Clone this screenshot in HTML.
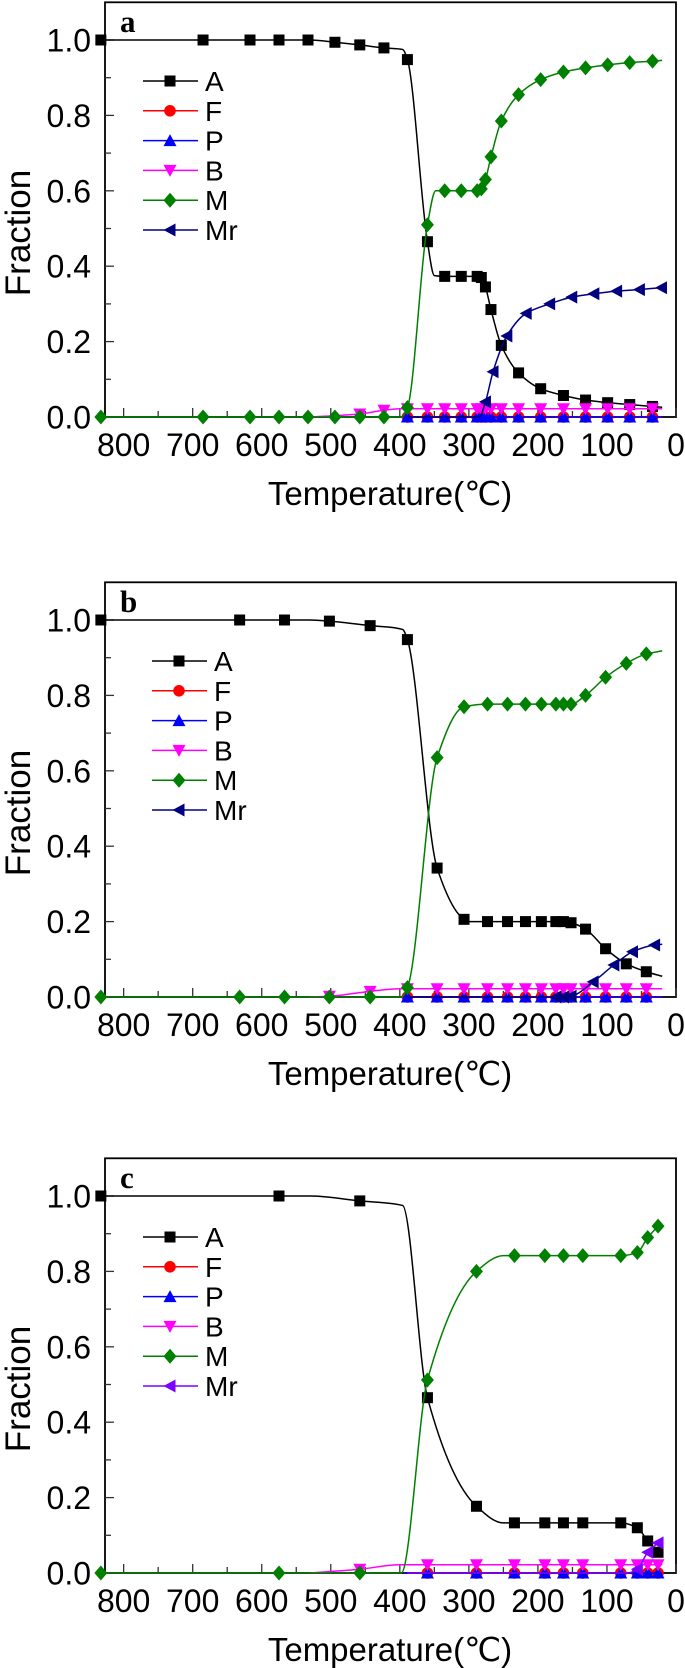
<!DOCTYPE html>
<html><head><meta charset="utf-8">
<style>
html,body{margin:0;padding:0;background:#fff;}
svg{display:block;font-family:"Liberation Sans",Arial,sans-serif;}
</style></head>
<body>
<svg id="chart" width="685" height="1668" viewBox="0 0 685 1668" xmlns="http://www.w3.org/2000/svg"></svg>
<script>
// ---------- data (temperature °C, fraction) ----------
// Panel a
const aA_T=[833,685,617,575,533,494,458,423,389,360,335,311,288,282,276,268,253,228,196,163,131,99,67,34];
const aA_V=[1,1,1,1,1,0.994,0.987,0.979,0.948,0.465,0.373,0.373,0.373,0.37,0.345,0.285,0.19,0.117,0.075,0.057,0.045,0.038,0.033,0.028];
const aA_kT=[530,396,350,20]; const aA_kV=[1,0.975,0.375,0.026];
const aM_T=[833,685,617,575,533,494,458,423,389,360,335,311,288,282,276,268,253,228,196,163,131,99,67,34];
const aM_V=[0,0,0,0,0,0,0,0,0.025,0.51,0.6,0.6,0.6,0.605,0.63,0.69,0.785,0.855,0.895,0.915,0.926,0.934,0.94,0.944];
const aM_kT=[398,348,20]; const aM_kV=[0,0.6,0.946];
const aMr_T=[276,265,245,217,183,151,119,86,53,21];
const aMr_V=[0.04,0.12,0.215,0.275,0.3,0.318,0.327,0.334,0.338,0.343];
const aMr_kT=[389,285]; const aMr_kV=[0,0];
const aB_T=[458,423,389,360,335,311,288,282,276,268,253,228,196,163,131,99,67,34];
const aB_V=[0.008,0.018,0.022,0.022,0.022,0.022,0.022,0.022,0.022,0.022,0.022,0.022,0.022,0.022,0.022,0.022,0.022,0.022];
const aB_kT=[530,400,20]; const aB_kV=[0,0.022,0.022];
const aF_T=[389,360,335,311,288,282,276,268,253,228,196,163,131,99,67,34];
const aF_V=[0,0,0,0,0,0,0,0,0,0,0,0,0,0,0,0];
// Panel b
const bA_T=[833,632,567,502,443,389,346,307,273,244,218,195,174,163,152,131,102,72,43];
const bA_V=[1,1,1,0.997,0.985,0.948,0.342,0.206,0.2,0.2,0.2,0.2,0.2,0.2,0.197,0.18,0.128,0.088,0.067];
const bA_kT=[530,396,300,20]; const bA_kV=[1,0.975,0.2,0.055];
const bM_T=[833,632,567,502,443,389,346,307,273,244,218,195,174,163,152,131,102,72,43];
const bM_V=[0,0,0,0,0,0.025,0.635,0.77,0.777,0.777,0.777,0.777,0.777,0.777,0.777,0.8,0.848,0.885,0.91];
const bM_kT=[398,20]; const bM_kV=[0,0.918];
const bMr_T=[174,163,152,120,90,63,31];
const bMr_V=[0,0,0.002,0.04,0.085,0.12,0.138];
const bMr_kT=[389,20]; const bMr_kV=[0,0.14];
const bB_T=[502,443,389,346,307,273,244,218,195,174,163,152,131,102,72,43];
const bB_V=[0.002,0.015,0.022,0.022,0.022,0.022,0.022,0.022,0.022,0.022,0.022,0.022,0.022,0.022,0.022,0.022];
const bB_kT=[530,400,20]; const bB_kV=[0,0.022,0.022];
const bF_T=[389,346,307,273,244,218,195,174,163,152,131,102,72,43];
const bF_V=[0,0,0,0,0,0,0,0,0,0,0,0,0,0];
// Panel c
const cA_T=[833,575,458,360,289,234,190,163,135,80,56,41,26];
const cA_V=[1,1,0.987,0.465,0.177,0.133,0.133,0.133,0.133,0.133,0.12,0.085,0.055];
const cA_kT=[530,396,250]; const cA_kV=[1,0.975,0.133];
const cM_T=[833,575,458,360,289,234,190,163,135,80,56,41,26];
const cM_V=[0,0,0,0.512,0.8,0.842,0.842,0.842,0.842,0.842,0.85,0.89,0.92];
const cM_kT=[398,250]; const cM_kV=[0,0.842];
const cMr_T=[56,41,26];
const cMr_V=[0.01,0.055,0.08];
const cMr_kT=[389,70]; const cMr_kV=[0,0];
const cB_T=[458,360,289,234,190,163,135,80,56,41,26];
const cB_V=[0.01,0.022,0.022,0.022,0.022,0.022,0.022,0.022,0.022,0.022,0.022];
const cB_kT=[530,400,20]; const cB_kV=[0,0.022,0.022];
const cF_T=[360,289,234,190,163,135,80,56,41,26];
const cF_V=[0,0,0,0,0,0,0,0,0,0];

const xTicks=[800,700,600,500,400,300,200,100,0];
const yTicks=[0.0,0.2,0.4,0.6,0.8,1.0];
const legendLabels=["A","F","P","B","M","Mr"];

// ---------- rendering ----------
const NS="http://www.w3.org/2000/svg";
const svg=document.getElementById('chart');
function mk(tag,attrs,parent){const e=document.createElementNS(NS,tag);for(const k in attrs)e.setAttribute(k,attrs[k]);(parent||svg).appendChild(e);return e;}

function monotone(pts){
  const n=pts.length; if(n<2) return "";
  const xs=pts.map(p=>p[0]), ys=pts.map(p=>p[1]);
  const d=[],m=new Array(n);
  for(let i=0;i<n-1;i++) d.push((ys[i+1]-ys[i])/(xs[i+1]-xs[i]));
  m[0]=d[0]; m[n-1]=d[n-2];
  for(let i=1;i<n-1;i++){ if(d[i-1]*d[i]<=0) m[i]=0; else { const w1=2*(xs[i+1]-xs[i])+(xs[i]-xs[i-1]), w2=(xs[i+1]-xs[i])+2*(xs[i]-xs[i-1]); m[i]=(w1+w2)/(w1/d[i-1]+w2/d[i]); } }
  let s="M"+xs[0].toFixed(2)+","+ys[0].toFixed(2);
  for(let i=0;i<n-1;i++){const h=xs[i+1]-xs[i];
    s+=" C"+(xs[i]+h/3).toFixed(2)+","+(ys[i]+m[i]*h/3).toFixed(2)+" "+(xs[i+1]-h/3).toFixed(2)+","+(ys[i+1]-m[i+1]*h/3).toFixed(2)+" "+xs[i+1].toFixed(2)+","+ys[i+1].toFixed(2);}
  return s;
}

function marker(g,shape,x,y,color){
  let e;
  if(shape==='square') e=mk('rect',{x:x-5.5,y:y-5.5,width:11,height:11,fill:color},g);
  else if(shape==='circle') e=mk('circle',{cx:x,cy:y,r:5.8,fill:color},g);
  else if(shape==='up') e=mk('polygon',{points:`${x},${y-6.5} ${x+6.5},${y+5.5} ${x-6.5},${y+5.5}`,fill:color},g);
  else if(shape==='down') e=mk('polygon',{points:`${x},${y+6.5} ${x+6.5},${y-5.5} ${x-6.5},${y-5.5}`,fill:color},g);
  else if(shape==='diamond') e=mk('polygon',{points:`${x},${y-7.5} ${x+6.5},${y} ${x},${y+7.5} ${x-6.5},${y}`,fill:color},g);
  else e=mk('polygon',{points:`${x-6.5},${y} ${x+5.5},${y-6.5} ${x+5.5},${y+6.5}`,fill:color},g);
  
  
}

function panel(cfg){
  const L=105,R=676,y0=cfg.y0,S=377;
  const top=y0-1.1*S;
  const X=t=>R-(R-L)*t/827;
  const Y=v=>y0-v*S;
  const g=mk('g',{});
  
  
  const fr=mk('rect',{x:L,y:top,width:R-L,height:y0-top,fill:'none',stroke:'#000','stroke-width':1.8},g);
  
  
  for(let v=0;v<=1.0001;v+=0.1){const y=Y(v);const major=Math.round(v*10)%2===0;
    mk('line',{x1:L,x2:L+(major?9:6),y1:y,y2:y,stroke:'#333','stroke-width':1.3},g);}
  yTicks.forEach(v=>{const t=mk('text',{x:L-14,y:Y(v)+11.5,'text-anchor':'end','font-size':32,fill:'#000'},g);t.textContent=v.toFixed(1);
    
    });
  for(let T=0;T<=800;T+=50){const x=X(T);const major=T%100===0;
    mk('line',{x1:x,x2:x,y1:y0,y2:y0-(major?9:6),stroke:'#333','stroke-width':1.3},g);}
  xTicks.forEach(T=>{const t=mk('text',{x:X(T),y:y0+39,'text-anchor':'middle','font-size':32,fill:'#000'},g);t.textContent=String(T);
    
    });
  const xt=mk('text',{x:390,y:y0+88,'text-anchor':'middle','font-size':33,fill:'#000'},g);
  xt.textContent='Temperature(℃)';
  
  
  const ytitle=mk('text',{x:0,y:0,'text-anchor':'middle','font-size':35,fill:'#000',transform:`translate(30,${y0-184}) rotate(-90)`},g);
  ytitle.textContent='Fraction';
  
  
  const pl=mk('text',{x:120,y:Y(1)-8,'font-size':31,'font-weight':'bold','font-family':'"Liberation Serif",serif',fill:'#000'},g);
  pl.textContent=cfg.tag;
  
  
  cfg.series.forEach(s=>{
    const pts=s.T.map((t,i)=>[t,s.V[i]]).concat((s.kT||[]).map((t,i)=>[t,s.kV[i]]));
    pts.sort((a,b)=>b[0]-a[0]);
    const sg=mk('g',{},g);
    
    
    const p=mk('path',{d:monotone(pts.map(q=>[X(q[0]),Y(q[1])])),fill:'none',stroke:s.color,'stroke-width':1.5},sg);
    
    
    s.T.forEach((t,i)=>marker(sg,s.shape,X(t),Y(s.V[i]),s.color));
  });
  const lg=mk('g',{},g);
  
  
  const order=['A','F','P','B','M','Mr'];
  order.forEach((nm,i)=>{const s=cfg.series.find(q=>q.name===nm);
    const y=Y(1)+41+i*29.8;const lx=cfg.legX;
    const eg=mk('g',{},lg);
    
    
    mk('line',{x1:lx,x2:lx+55,y1:y,y2:y,stroke:s.color,'stroke-width':1.5},eg);
    marker(eg,s.shape,lx+27,y,s.color);
    const t=mk('text',{x:lx+62,y:y+10,'font-size':28,fill:'#000'},eg);t.textContent=legendLabels[i];});
}

function build(tag,y0,legX,d,mrColor){
  panel({tag,y0,legX,series:[
    {name:'A',shape:'square',color:'#000',T:d.A_T,V:d.A_V,kT:d.A_kT,kV:d.A_kV},
    {name:'F',shape:'circle',color:'#ff0000',T:d.F_T,V:d.F_V,kT:[395,20],kV:[0,0]},
    {name:'P',shape:'up',color:'#0000ff',T:d.F_T,V:d.F_V,kT:[395,20],kV:[0,0]},
    {name:'B',shape:'down',color:'#ff00ff',T:d.B_T,V:d.B_V,kT:d.B_kT,kV:d.B_kV},
    {name:'M',shape:'diamond',color:'#008000',T:d.M_T,V:d.M_V,kT:d.M_kT,kV:d.M_kV},
    {name:'Mr',shape:'left',color:mrColor,T:d.Mr_T,V:d.Mr_V,kT:d.Mr_kT,kV:d.Mr_kV}
  ]});
}
build('a',417,143,{A_T:aA_T,A_V:aA_V,A_kT:aA_kT,A_kV:aA_kV,F_T:aF_T,F_V:aF_V,B_T:aB_T,B_V:aB_V,B_kT:aB_kT,B_kV:aB_kV,M_T:aM_T,M_V:aM_V,M_kT:aM_kT,M_kV:aM_kV,Mr_T:aMr_T,Mr_V:aMr_V,Mr_kT:aMr_kT,Mr_kV:aMr_kV},'#000080');
build('b',997,152,{A_T:bA_T,A_V:bA_V,A_kT:bA_kT,A_kV:bA_kV,F_T:bF_T,F_V:bF_V,B_T:bB_T,B_V:bB_V,B_kT:bB_kT,B_kV:bB_kV,M_T:bM_T,M_V:bM_V,M_kT:bM_kT,M_kV:bM_kV,Mr_T:bMr_T,Mr_V:bMr_V,Mr_kT:bMr_kT,Mr_kV:bMr_kV},'#000080');
build('c',1573,143,{A_T:cA_T,A_V:cA_V,A_kT:cA_kT,A_kV:cA_kV,F_T:cF_T,F_V:cF_V,B_T:cB_T,B_V:cB_V,B_kT:cB_kT,B_kV:cB_kV,M_T:cM_T,M_V:cM_V,M_kT:cM_kT,M_kV:cM_kV,Mr_T:cMr_T,Mr_V:cMr_V,Mr_kT:cMr_kT,Mr_kV:cMr_kV},'#8000ff');
</script>
</body></html>
